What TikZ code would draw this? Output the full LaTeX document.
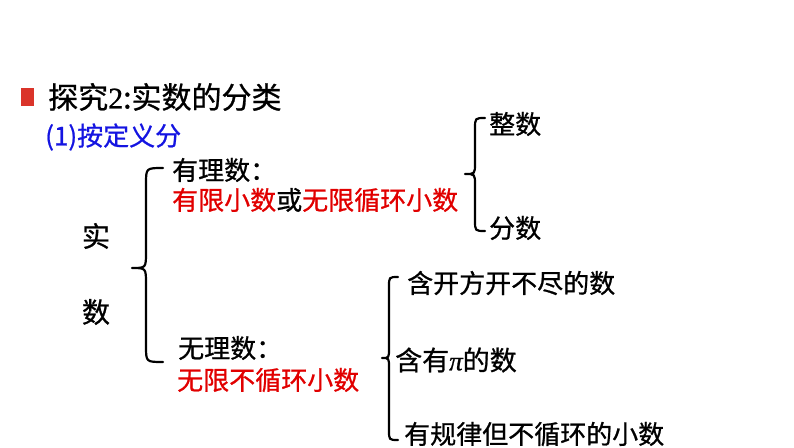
\documentclass[tikz,border=0pt]{standalone}
\usepackage{fontspec}
\newfontfamily\cjk[FakeBold=0.8]{Noto Sans CJK SC}
\newfontfamily\ser[FakeBold=0.8]{Liberation Serif}
\definecolor{bulletred}{RGB}{218,52,42}
\definecolor{txtred}{RGB}{225,0,0}
\definecolor{txtblue}{RGB}{20,20,225}
% left curly brace: x0 = tip, xm = spine, x1 = ends, top, mid, bottom, radius
\newcommand{\mybrace}[7]{%
  \draw[bracestyle] (#3,#4) .. controls (#2,#4) .. (#2,#4+#7) -- (#2,#5-#7)
    .. controls (#2,#5) .. (#1,#5) .. controls (#2,#5) .. (#2,#5+#7)
    -- (#2,#6-#7) .. controls (#2,#6) .. (#3,#6);}
\begin{document}
\begin{tikzpicture}[x=1pt,y=-1pt,
  lbl/.style={inner sep=0pt, anchor=west, font=\cjk\fontsize{26}{26}\selectfont},
  bracestyle/.style={line width=2.2pt, line cap=round, line join=round, black}]
\useasboundingbox (0,0) rectangle (794,447);
% title
\fill[bulletred] (21,88) rectangle (34,106);
\node[lbl, font=\cjk\fontsize{30}{30}\selectfont] (title) at (48,97) {探究{\ser 2}:实数的分类};
\node[lbl, text=txtblue] (sub) at (45,137) {(1)按定义分};
% real numbers
\node[inner sep=0pt, font=\cjk\fontsize{28}{28}\selectfont] (shi) at (96,236) {实};
\node[inner sep=0pt, font=\cjk\fontsize{28}{28}\selectfont] (shu) at (96,312) {数};
\mybrace{132}{146}{163}{168}{268}{362}{16}
% rational
\node[lbl] (rat) at (172,170) {有理数：};
\node[lbl] (ratdef) at (172,200) {\textcolor{txtred}{有限小数}或\textcolor{txtred}{无限循环小数}};
\mybrace{465}{475}{485}{118}{174}{231}{11}
\node[lbl] (int) at (489,124) {整数};
\node[lbl] (frac) at (489,228) {分数};
% irrational
\node[lbl] (irr) at (178,348) {无理数：};
\node[lbl, text=txtred] (irrdef) at (177,380) {无限不循环小数};
\mybrace{382}{389}{398}{277}{358}{440}{10}
\node[lbl] (sq) at (407,283) {含开方开不尽的数};
\node[lbl, font=\cjk\fontsize{27}{27}\selectfont] (pi) at (395,360) {含有{\ser\itshape π}的数};
\node[lbl] (pat) at (404,434) {有规律但不循环的小数};
\end{tikzpicture}
\end{document}
